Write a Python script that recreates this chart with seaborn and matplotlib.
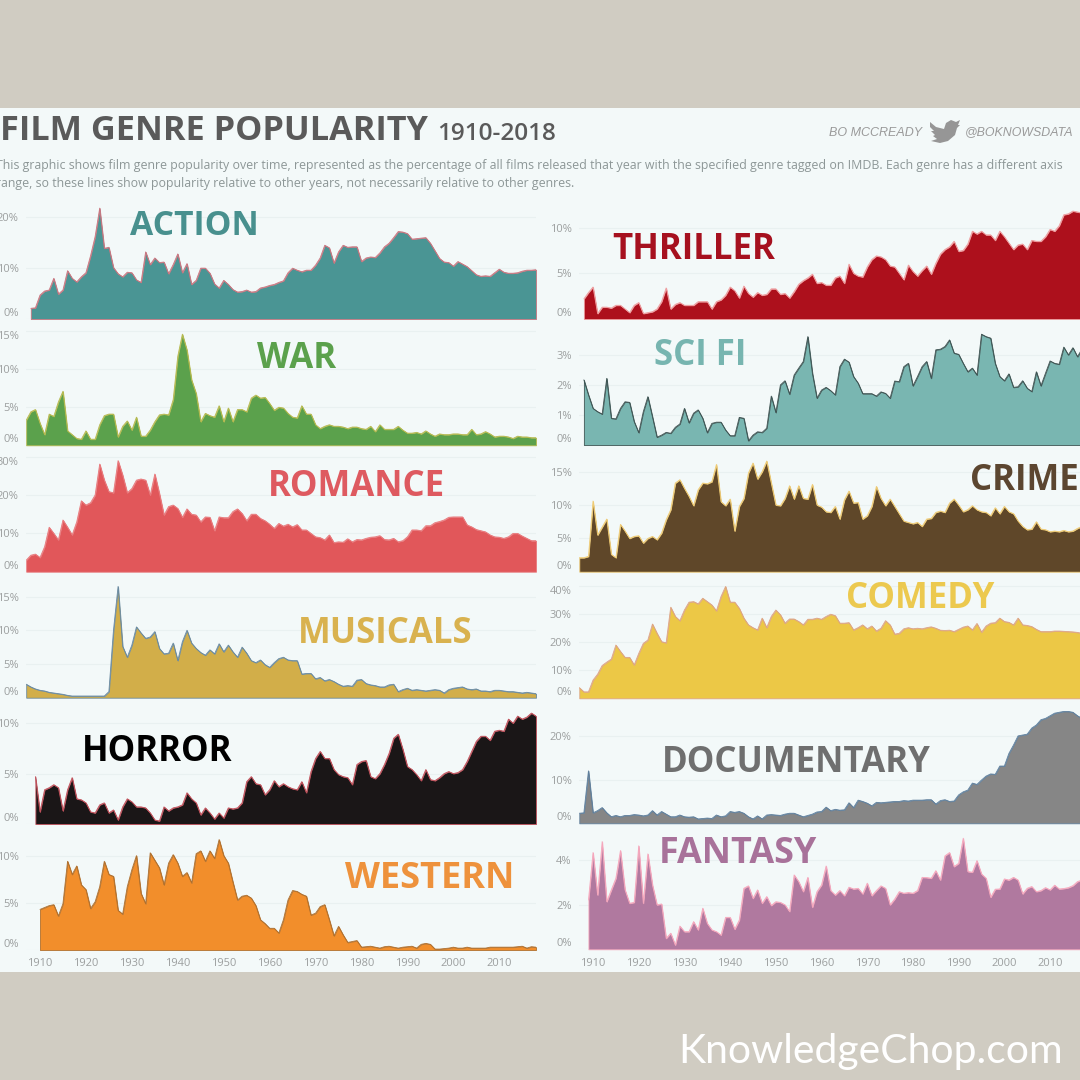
import numpy as np
import seaborn as sns
import matplotlib.pyplot as plt
from matplotlib.patches import Rectangle, Polygon

# values are % of films per year (one line per decade)
action_start = 1908
action = [2.1, 2.2,
          4.7, 5.5, 5.7, 8.0, 4.9, 5.7, 9.5, 8.0, 7.3, 8.3,
          9.1, 12.4, 16.2, 21.8, 13.9, 14.1, 10.1, 8.9, 8.3, 9.2,
          9.1, 7.7, 7.2, 13.2, 10.7, 12.0, 11.1, 11.2, 8.9, 10.7,
          12.8, 9.1, 10.9, 6.8, 7.6, 10.0, 10.0, 9.0, 6.9, 6.1,
          7.6, 6.8, 5.8, 5.3, 5.4, 5.7, 5.3, 5.4, 6.1, 6.3,
          6.6, 6.8, 7.2, 7.5, 9.1, 10.0, 9.6, 9.3, 9.6, 9.6,
          10.6, 12.0, 14.5, 14.0, 11.0, 13.2, 14.5, 14.1, 14.2, 14.2,
          11.3, 12.0, 12.2, 12.1, 13.0, 14.2, 14.9, 16.0, 17.2, 17.1,
          16.8, 15.7, 15.8, 15.9, 16.0, 14.9, 13.4, 11.9, 11.2, 11.1,
          10.4, 11.3, 10.8, 10.3, 9.5, 8.7, 8.4, 8.5, 8.4, 9.1,
          9.8, 9.2, 9.0, 9.0, 9.1, 9.4, 9.6, 9.6, 9.7]

war_start = 1907
war = [3.3, 4.4, 4.7,
       2.9, 1.4, 4.1, 3.8, 5.7, 7.1, 1.9, 1.4, 0.9, 0.8,
       1.9, 0.8, 0.8, 2.7, 3.9, 4.1, 4.1, 1.1, 2.5, 3.2,
       2.0, 3.7, 1.2, 1.2, 2.0, 3.1, 4.0, 4.1, 4.0, 6.0,
       11.7, 14.6, 12.5, 8.6, 6.8, 3.1, 4.2, 3.9, 3.7, 5.2,
       3.1, 4.9, 3.1, 4.7, 4.7, 4.4, 6.2, 6.6, 6.2, 6.3,
       5.5, 4.6, 5.0, 4.9, 4.2, 3.7, 3.6, 5.2, 4.1, 4.1,
       2.7, 2.2, 2.5, 2.7, 2.5, 2.5, 2.4, 2.2, 2.4, 2.4,
       2.2, 2.1, 2.5, 1.8, 2.7, 2.1, 2.1, 2.1, 2.5, 2.0,
       1.6, 1.6, 1.7, 1.5, 1.9, 1.5, 1.2, 1.5, 1.4, 1.4,
       1.5, 1.5, 1.4, 1.4, 2.1, 1.4, 1.5, 1.8, 1.5, 1.1,
       1.2, 1.2, 1.1, 0.9, 1.2, 1.1, 1.1, 1.0, 1.0]

romance_start = 1907
romance = [3.0, 4.3, 4.6,
           3.7, 6.5, 11.6, 10.0, 8.3, 13.5, 11.6, 9.6, 13.0, 18.5,
           17.4, 18.0, 20.0, 28.1, 23.9, 20.9, 20.6, 29.0, 25.2, 20.6,
           21.7, 23.9, 24.2, 23.9, 20.0, 25.5, 20.4, 14.8, 17.0, 17.4,
           16.5, 14.2, 16.4, 15.0, 14.8, 13.0, 14.3, 14.2, 10.7, 14.3,
           14.1, 14.1, 15.7, 16.4, 15.2, 13.3, 15.0, 15.0, 13.9, 13.3,
           12.4, 11.3, 12.6, 11.9, 12.4, 11.7, 12.3, 10.9, 10.9, 10.0,
           9.1, 8.9, 8.3, 9.6, 7.6, 7.8, 7.7, 8.6, 7.8, 8.4,
           8.3, 8.7, 9.0, 9.1, 9.4, 8.4, 8.3, 8.7, 7.8, 8.1,
           9.1, 10.9, 10.9, 10.7, 12.0, 12.0, 12.8, 13.1, 13.5, 14.2,
           14.3, 14.3, 14.3, 12.2, 11.7, 11.0, 10.7, 10.4, 9.6, 9.1,
           9.0, 8.7, 9.1, 10.0, 10.0, 9.3, 8.7, 8.1, 8.1]

musicals_start = 1907
musicals = [2.0, 1.6, 1.3,
            1.1, 1.0, 0.8, 0.7, 0.6, 0.5, 0.35, 0.25, 0.25, 0.25,
            0.25, 0.25, 0.25, 0.25, 0.25, 0.9, 10.0, 16.5, 7.6, 6.0,
            7.8, 10.5, 9.6, 8.8, 9.0, 9.8, 7.3, 6.5, 6.6, 8.1,
            5.5, 8.3, 10.0, 8.1, 7.3, 6.7, 6.3, 7.1, 6.5, 8.0,
            6.8, 7.8, 6.8, 6.0, 7.5, 6.6, 5.5, 5.2, 5.6, 4.9,
            4.5, 5.2, 5.8, 6.0, 5.6, 5.5, 5.5, 3.5, 3.6, 3.6,
            2.8, 3.0, 2.5, 2.7, 2.4, 2.0, 1.7, 1.8, 1.7, 2.6,
            2.7, 2.1, 1.9, 1.8, 1.6, 1.6, 1.9, 2.0, 0.9, 1.2,
            1.4, 1.1, 1.2, 1.1, 1.0, 1.1, 1.2, 1.1, 0.7, 1.2,
            1.4, 1.5, 1.6, 1.3, 1.2, 1.3, 1.0, 1.0, 0.9, 1.1,
            1.1, 1.0, 0.9, 0.9, 0.8, 0.7, 0.8, 0.7, 0.6]

horror_start = 1909
horror = [4.7,
          1.2, 3.4, 3.6, 3.9, 3.6, 1.3, 3.4, 4.6, 2.5, 2.4,
          2.1, 1.2, 1.1, 1.9, 2.1, 1.1, 1.4, 0.4, 1.7, 2.5,
          2.2, 1.7, 1.7, 1.6, 1.1, 0.4, 0.3, 1.7, 1.3, 1.6,
          1.7, 1.9, 3.1, 2.5, 2.1, 0.9, 1.6, 1.1, 0.5, 1.1,
          0.6, 1.6, 1.5, 1.6, 2.1, 4.2, 4.7, 4.0, 3.9, 2.9,
          3.4, 4.3, 3.7, 4.0, 3.7, 3.5, 3.4, 4.2, 3.1, 5.2,
          6.5, 7.2, 6.5, 6.5, 5.4, 4.9, 4.7, 4.6, 3.9, 5.9,
          6.2, 6.3, 4.7, 4.5, 5.0, 5.9, 7.0, 8.5, 8.9, 7.4,
          5.7, 5.4, 4.9, 4.3, 5.4, 4.4, 4.3, 4.6, 5.0, 5.2,
          5.0, 5.1, 5.4, 6.2, 7.2, 8.2, 8.7, 8.7, 8.3, 9.2,
          9.3, 9.2, 10.4, 10.0, 10.7, 10.4, 10.6, 11.0, 10.7]

western_start = 1910
western = [4.3, 4.5, 4.7, 4.8, 3.6, 4.9, 9.4, 8.0, 8.9, 6.9,
           6.4, 4.4, 5.1, 6.7, 9.4, 8.0, 7.8, 4.2, 3.8, 6.7,
           8.5, 10.0, 6.0, 4.9, 10.3, 9.5, 8.7, 6.9, 9.2, 10.1,
           9.2, 7.8, 8.2, 7.1, 10.2, 10.5, 9.4, 10.5, 9.7, 11.7,
           10.0, 9.2, 7.2, 5.3, 5.7, 5.8, 5.5, 4.7, 3.2, 2.8,
           2.3, 2.3, 1.8, 3.2, 5.3, 6.3, 6.2, 5.9, 5.7, 3.7,
           3.9, 4.6, 4.8, 3.2, 1.5, 2.5, 1.6, 0.8, 0.9, 1.0,
           0.3, 0.35, 0.4, 0.3, 0.2, 0.35, 0.4, 0.3, 0.2, 0.3,
           0.35, 0.4, 0.2, 0.6, 0.7, 0.6, 0.1, 0.1, 0.15, 0.2,
           0.3, 0.2, 0.2, 0.3, 0.2, 0.2, 0.2, 0.2, 0.3, 0.3,
           0.3, 0.3, 0.3, 0.3, 0.35, 0.4, 0.2, 0.35, 0.3]

thriller_start = 1908
thriller = [2.2, 2.9,
            3.5, 0.6, 1.3, 1.3, 1.2, 1.5, 1.5, 1.1, 0.7, 1.5,
            1.8, 0.6, 0.7, 0.8, 1.1, 1.9, 3.4, 1.1, 1.6, 1.8,
            1.5, 1.5, 1.5, 1.9, 1.9, 1.9, 1.1, 1.9, 2.1, 2.6,
            3.5, 3.1, 2.3, 3.6, 2.8, 2.4, 2.9, 2.6, 2.7, 3.3,
            3.3, 2.7, 2.8, 2.3, 3.0, 3.8, 4.2, 4.5, 4.9, 3.9,
            4.0, 3.7, 3.7, 4.5, 4.7, 3.9, 6.0, 5.0, 4.7, 4.6,
            5.7, 6.5, 6.9, 6.8, 6.5, 5.8, 5.7, 5.0, 4.3, 5.9,
            5.2, 4.7, 5.3, 5.8, 4.9, 6.1, 7.1, 7.6, 7.9, 8.5,
            7.4, 7.5, 8.2, 9.6, 9.3, 9.6, 9.2, 9.2, 8.6, 9.6,
            9.0, 8.3, 7.6, 8.1, 8.2, 7.6, 8.6, 8.5, 8.5, 9.0,
            9.8, 9.6, 10.2, 11.4, 11.5, 11.8, 11.7, 11.6, 11.4]

scifi_start = 1908
scifi = [2.17, 1.67,
         1.22, 1.11, 1.03, 2.22, 0.89, 0.87, 1.22, 1.44, 1.42, 0.78,
         0.41, 1.11, 1.61, 0.94, 0.26, 0.33, 0.42, 0.39, 0.59, 0.70,
         1.22, 0.74, 1.06, 1.17, 0.89, 0.41, 0.72, 0.76, 0.76, 0.50,
         0.31, 0.31, 0.92, 0.89, 0.14, 0.33, 0.44, 0.42, 0.56, 1.63,
         1.08, 2.00, 2.14, 1.69, 2.33, 2.56, 2.78, 3.61, 2.39, 1.56,
         1.83, 1.92, 1.81, 1.67, 2.61, 2.86, 2.76, 2.28, 2.06, 1.71,
         1.71, 1.71, 1.63, 1.77, 1.72, 1.56, 2.13, 2.11, 2.61, 2.72,
         1.97, 2.28, 2.61, 2.78, 2.22, 3.17, 3.19, 3.28, 3.50, 3.06,
         3.02, 2.72, 2.44, 2.56, 2.33, 3.69, 3.61, 3.56, 2.72, 2.28,
         2.14, 2.37, 1.92, 1.94, 2.14, 1.89, 1.78, 2.44, 1.97, 2.39,
         2.80, 2.72, 2.69, 3.26, 3.00, 3.24, 2.94, 3.20, 3.05]

crime_start = 1907
crime = [2.1, 2.1, 2.3,
         10.6, 5.5, 6.7, 7.9, 2.6, 2.1, 7.1, 6.1, 5.0, 5.3,
         5.4, 4.3, 5.0, 5.3, 4.8, 5.8, 7.8, 9.3, 13.3, 13.8,
         12.5, 11.3, 9.9, 12.3, 13.3, 13.2, 13.5, 16.1, 10.5, 9.9,
         10.9, 6.1, 9.8, 11.0, 14.8, 16.3, 13.9, 15.0, 16.6, 13.3,
         10.0, 9.9, 11.0, 12.9, 10.9, 12.9, 11.0, 10.9, 13.1, 10.0,
         9.7, 9.0, 8.9, 9.8, 7.9, 10.8, 12.1, 10.3, 10.4, 7.9,
         8.4, 9.8, 12.8, 11.0, 9.9, 10.9, 9.8, 8.7, 7.6, 7.4,
         7.2, 7.4, 6.8, 7.9, 8.0, 8.9, 9.1, 8.9, 10.3, 10.9,
         10.0, 9.0, 9.3, 9.9, 9.3, 9.0, 8.9, 8.4, 9.6, 8.7,
         9.8, 9.0, 8.7, 7.6, 6.8, 6.3, 6.4, 7.5, 6.4, 6.3,
         6.0, 6.1, 6.0, 6.2, 6.0, 6.1, 6.5, 6.8, 6.6]

comedy_start = 1907
comedy = [3.8, 2.3, 2.3,
          6.5, 8.6, 11.7, 12.9, 14.0, 19.0, 16.7, 14.6, 14.6, 11.9,
          16.0, 19.6, 20.8, 26.5, 23.2, 20.2, 19.8, 32.5, 29.2, 27.7,
          31.5, 34.3, 34.5, 33.7, 35.7, 34.5, 33.3, 31.2, 36.3, 39.9,
          34.3, 34.3, 32.1, 28.6, 26.2, 25.2, 24.4, 28.6, 25.2, 29.2,
          31.5, 29.8, 26.8, 28.3, 28.3, 27.4, 26.2, 28.2, 28.2, 28.6,
          28.2, 29.2, 30.0, 29.5, 26.8, 26.8, 27.0, 24.4, 25.2, 26.2,
          24.8, 25.8, 24.0, 25.0, 27.7, 26.2, 22.9, 23.2, 24.8, 25.2,
          24.8, 25.0, 24.8, 25.2, 25.5, 25.0, 24.3, 24.2, 24.3, 23.8,
          24.6, 25.4, 25.8, 24.4, 26.7, 23.6, 25.8, 26.8, 27.0, 28.6,
          27.4, 27.1, 26.2, 28.6, 26.2, 26.0, 25.6, 24.6, 23.8, 23.8,
          23.8, 24.0, 24.0, 23.9, 23.8, 23.7, 23.5, 23.2, 23.1]

documentary_start = 1907
documentary = [2.3, 2.4, 12.0,
               2.4, 2.9, 3.6, 2.4, 1.5, 1.8, 1.5, 1.8, 1.8, 2.0,
               1.9, 1.7, 1.9, 2.9, 1.9, 2.7, 2.1, 1.5, 1.5, 1.9,
               1.5, 1.4, 1.5, 1.0, 1.1, 1.2, 1.1, 1.9, 1.5, 1.7,
               2.7, 2.5, 2.7, 2.3, 1.5, 1.0, 1.7, 1.0, 1.9, 2.0,
               1.9, 1.8, 2.1, 2.3, 2.3, 1.9, 1.5, 1.8, 2.1, 2.6,
               2.7, 3.7, 2.9, 3.2, 3.0, 3.1, 4.7, 3.6, 5.3, 5.0,
               4.6, 4.0, 4.8, 4.7, 4.8, 4.9, 5.0, 5.0, 5.2, 5.1,
               5.3, 5.3, 5.3, 5.4, 5.4, 4.4, 5.2, 5.4, 5.0, 5.1,
               6.5, 7.2, 7.6, 9.2, 8.9, 9.9, 10.8, 11.3, 11.2, 13.1,
               13.1, 16.0, 17.9, 20.0, 20.2, 20.4, 21.8, 22.5, 23.7, 24.0,
               24.6, 25.2, 25.4, 25.6, 25.6, 25.4, 24.6, 24.0, 23.7]

fantasy_start = 1909
fantasy = [2.2,
           4.33, 2.43, 4.82, 2.13, 2.66, 3.18, 4.42, 2.66, 2.06, 2.10,
           4.63, 2.06, 4.27, 2.88, 1.99, 2.03, 0.49, 0.72, 0.19, 1.04,
           0.79, 0.79, 1.24, 0.87, 1.84, 1.16, 0.87, 0.79, 0.64, 1.43,
           1.43, 0.90, 1.31, 2.73, 2.84, 2.28, 2.66, 2.06, 2.36, 1.96,
           2.13, 2.10, 1.99, 1.69, 3.33, 3.03, 2.58, 3.22, 1.88, 2.58,
           2.88, 3.73, 2.63, 2.43, 2.63, 2.40, 2.78, 2.70, 2.73, 2.48,
           2.96, 2.40, 2.63, 2.84, 2.73, 1.99, 2.25, 2.58, 2.51, 2.54,
           2.51, 2.63, 3.22, 3.21, 3.18, 3.52, 3.10, 4.18, 4.33, 3.70,
           3.85, 4.97, 3.48, 3.45, 3.97, 3.37, 3.18, 2.33, 2.69, 2.70,
           3.15, 3.10, 3.22, 3.10, 2.48, 2.73, 2.81, 2.58, 2.63, 2.76,
           2.66, 2.87, 2.70, 2.72, 2.76, 2.85, 3.03, 3.10, 3.18]

year_ticks = [1910, 1920, 1930, 1940, 1950, 1960, 1970, 1980, 1990, 2000, 2010]

W, H = 1080, 1080
PAGE = '#D0CCC2'
PANEL = '#F3F9F9'

sns.set_theme(style='whitegrid', rc={'figure.facecolor': PAGE, 'axes.facecolor': 'none',
                                     'grid.color': '#E9F1F1', 'grid.linewidth': 0.8})
plt.rcParams['font.family'] = ['Open Sans', 'DejaVu Sans']

fig = plt.figure(figsize=(W / 100, H / 100), dpi=100)
fig.patches.append(Rectangle((0, 1 - 972 / H), 1, 864 / H, transform=fig.transFigure,
                             facecolor=PANEL, edgecolor='none', zorder=-5))


def make_axes(left, right, base, ymax):
    height = 118
    ax = fig.add_axes([left / W, 1 - base / H, (right - left) / W, height / H])
    ax.set_xlim(1907, 2018)
    ax.set_ylim(0, ymax)
    return ax


def draw_panel(col, base, start, values, ymax, ticks, fill, edge, name, name_x, name_y, name_color,
               name_size=25, top_label=False, show_years=False):
    left, right = (26.2, 536) if col == 0 else (579.3, 1086.6)
    ax = make_axes(left, right, base, ymax)
    years = start + np.arange(len(values))
    ax.fill_between(years, 0, values, facecolor=fill, edgecolor=edge, linewidth=0.6, clip_on=False)
    sns.lineplot(x=years, y=values, ax=ax, color=edge, linewidth=0.6, errorbar=None)
    ax.set_xlabel('')
    ax.set_ylabel('')
    ax.grid(axis='x', visible=False)
    ax.set_yticks(ticks)
    ax.set_yticklabels([f'{t}%' for t in ticks])
    ax.tick_params(axis='y', length=0, pad=5.5, labelsize=8, labelcolor='#9C9F9F')
    labels = ax.get_yticklabels()
    labels[0].set_va('bottom')
    if top_label:
        labels[-1].set_va('top')
    if show_years:
        ax.set_xticks(year_ticks)
        ax.set_xticklabels([str(y) for y in year_ticks])
        ax.tick_params(axis='x', length=0, pad=6, labelsize=8, labelcolor='#9C9F9F')
    else:
        ax.set_xticks([])
    sns.despine(ax=ax, left=True, bottom=True)
    fig.text(name_x / W, 1 - name_y / H, name, color=name_color, fontsize=name_size,
             fontweight='bold', ha='left', va='center')


draw_panel(0, 319, action_start, action, 23.2, [0, 10, 20], '#4A9594', '#C9757F',
           'ACTION', 130, 226, '#48908E', name_size=24.2)
draw_panel(0, 445.3, war_start, war, 15.5, [0, 5, 10, 15], '#5BA14C', '#B5B94E',
           'WAR', 257, 359, '#5BA14C', top_label=True)
draw_panel(0, 571.7, romance_start, romance, 30.8, [0, 10, 20, 30], '#E1575A', '#E8797C',
           'ROMANCE', 268, 487, '#DE5A60', top_label=True)
draw_panel(0, 697.7, musicals_start, musicals, 17.5, [0, 5, 10, 15], '#D2AE49', '#6A8AA0',
           'MUSICALS', 298, 634, '#D9B24F')
draw_panel(0, 824, horror_start, horror, 11.7, [0, 5, 10], '#1A1617', '#C0505A',
           'HORROR', 82, 752, '#000000')
draw_panel(0, 950, western_start, western, 12.5, [0, 5, 10], '#F28E2B', '#B0702E',
           'WESTERN', 345, 879, '#EE923C', name_size=26, show_years=True)
draw_panel(1, 319, thriller_start, thriller, 12.9, [0, 5, 10], '#AD101C', '#EE9C9E',
           'THRILLER', 612, 250, '#A6111F')
draw_panel(1, 445, scifi_start, scifi, 3.93, [0, 1, 2, 3], '#79B6B1', '#3E5453',
           'SCI FI', 654, 356, '#77B5B0')
draw_panel(1, 571.7, crime_start, crime, 17.7, [0, 5, 10, 15], '#5F4729', '#EFCB74',
           'CRIME', 970, 481, '#5C4630')
draw_panel(1, 698.3, comedy_start, comedy, 42.1, [0, 10, 20, 30, 40], '#ECC846', '#DDA583',
           'COMEDY', 846, 599, '#ECC94F', top_label=True)
draw_panel(1, 823.3, documentary_start, documentary, 27, [0, 10, 20], '#868686', '#5F7F9C',
           'DOCUMENTARY', 662, 763, '#6F6F6F')
draw_panel(1, 949.3, fantasy_start, fantasy, 5.28, [0, 2, 4], '#B0799F', '#F5A7BC',
           'FANTASY', 659, 854, '#A8729A', name_size=25.8, show_years=True)

# header
fig.text(0, 1 - 131 / H, 'FILM GENRE POPULARITY', color='#5A5A5A', fontsize=24.7, fontweight='bold',
         ha='left', va='center')
fig.text(437 / W, 1 - 134 / H, '1910-2018', color='#5A5A5A', fontsize=17.6, fontweight='semibold',
         ha='left', va='center')
sub_1 = ('This graphic shows film genre popularity over time, represented as the percentage of all films '
         'released that year with the specified genre tagged on IMDB. Each genre has a different axis')
sub_2 = 'range, so these lines show popularity relative to other years, not necessarily relative to other genres.'
fig.text(-4 / W, 1 - 166 / H, sub_1, color='#8D9797', fontsize=8.9, ha='left', va='center')
fig.text(-4 / W, 1 - 183 / H, sub_2, color='#8D9797', fontsize=8.9, ha='left', va='center')

fig.text(829 / W, 1 - 133 / H, 'BO MCCREADY', color='#9A9A9A', fontsize=9, style='italic',
         family='Liberation Sans', ha='left', va='center')
fig.text(965 / W, 1 - 132 / H, '@BOKNOWSDATA', color='#9A9A9A', fontsize=8.9, style='italic',
         family='Liberation Sans', ha='left', va='center')

# twitter bird, drawn by hand as a small shape
bird = [(930, 122), (936, 127), (944, 129), (946, 123), (951, 120), (956, 122), (960, 120), (958, 125),
        (960, 125), (957, 128), (955, 135), (948, 141), (940, 143), (931, 141), (937, 139), (933, 136),
        (935, 135), (931, 131), (934, 131), (930, 127)]
fig.patches.append(Polygon([(x / W, 1 - y / H) for x, y in bird], closed=True, transform=fig.transFigure,
                           facecolor='#969696', edgecolor='none', zorder=3))

fig.text(678 / W, 1 - 1051 / H, 'KnowledgeChop.com', color='white', fontsize=29.4, ha='left', va='center',
         family='Lato')

fig.savefig('out.png', dpi=100, facecolor=PAGE)
